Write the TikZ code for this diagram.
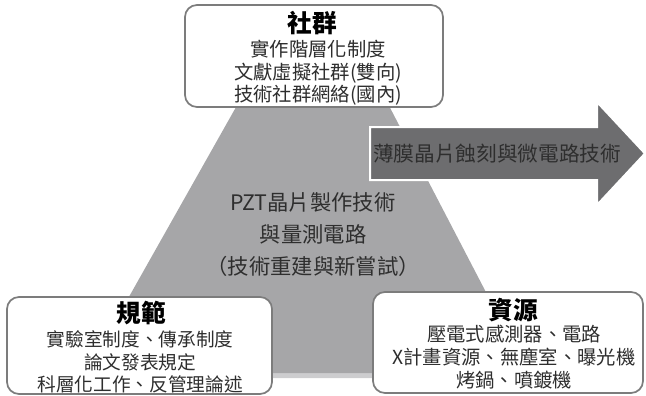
\documentclass[tikz,border=0pt]{standalone}
\usepackage{fontspec}
\newfontfamily\cjk{Noto Sans CJK TC}
\definecolor{trigray}{HTML}{A6A6A8}
\definecolor{trishadow}{HTML}{CDCDCF}
\definecolor{arrowgray}{HTML}{6D6D6F}
\definecolor{framegray}{HTML}{7C7C7C}
\definecolor{txtdark}{HTML}{2E2E2E}
\tikzset{
  panel/.style={draw=framegray, line width=1.3pt, fill=white, rounded corners=9pt, inner sep=0pt},
  paneltitle/.style={font=\cjk\fontsize{18.5}{22}\selectfont\bfseries, text=black, inner sep=0pt},
  panelbody/.style={font=\cjk\fontsize{14.5}{17}\selectfont, text=txtdark, align=center, inner sep=0pt},
  coretext/.style={font=\cjk\fontsize{16}{24}\selectfont, text=txtdark, align=center, inner sep=0pt},
  arrowtext/.style={font=\cjk\fontsize{15.5}{18}\selectfont, text=txtdark, inner sep=0pt}
}
\begin{document}
\begin{tikzpicture}[x=0.75pt,y=-0.75pt]
\useasboundingbox (0,0) rectangle (646,396);
% pyramid
\coordinate (bl) at (86,373);
\coordinate (br) at (528,373);
\coordinate (tr) at (386,100);
\coordinate (tl) at (240,100);
\fill[trishadow] (84,378) -- (530,378) -- (528,373) -- (86,373) -- cycle;
\fill[trigray] (bl) -- (br) -- (tr) -- (tl) -- cycle;
% arrow
\fill[arrowgray, draw=white, line width=1.5pt, line join=miter]
  (370,127) -- (597,127) -- (597,102) -- (645,153.5) -- (597,205) -- (597,180) -- (370,180) -- cycle;
\node[arrowtext] (arrowlbl) at (497,153.5) {薄膜晶片蝕刻與微電路技術};
% core text
\node[coretext] (core) at (313,235) {PZT晶片製作技術\\與量測電路\\（技術重建與新嘗試）};
% top panel
\node[panel, minimum width=193.5pt, minimum height=76.5pt] (soc) at (314,56) {};
\node[paneltitle] (soct) at (312,23) {社群};
\node[panelbody] (socb) at (318,73) {實作階層化制度\\文獻虛擬社群(雙向)\\技術社群網絡(國內)};
% left panel
\node[panel, minimum width=198.75pt, minimum height=72.75pt] (norm) at (139.5,345.5) {};
\node[paneltitle] (normt) at (141,313) {規範};
\node[panelbody, font=\cjk\fontsize{14}{17}\selectfont] (normb) at (140,362) {實驗室制度、傳承制度\\論文發表規定\\科層化工作、反管理論述};
% right panel
\node[panel, minimum width=202.5pt, minimum height=75.75pt] (res) at (508,342.5) {};
\node[paneltitle] (rest) at (513,310) {資源};
\node[panelbody] (resb) at (514,357) {壓電式感測器、電路\\X計畫資源、無塵室、曝光機\\烤鍋、噴鍍機};
\end{tikzpicture}
\end{document}
